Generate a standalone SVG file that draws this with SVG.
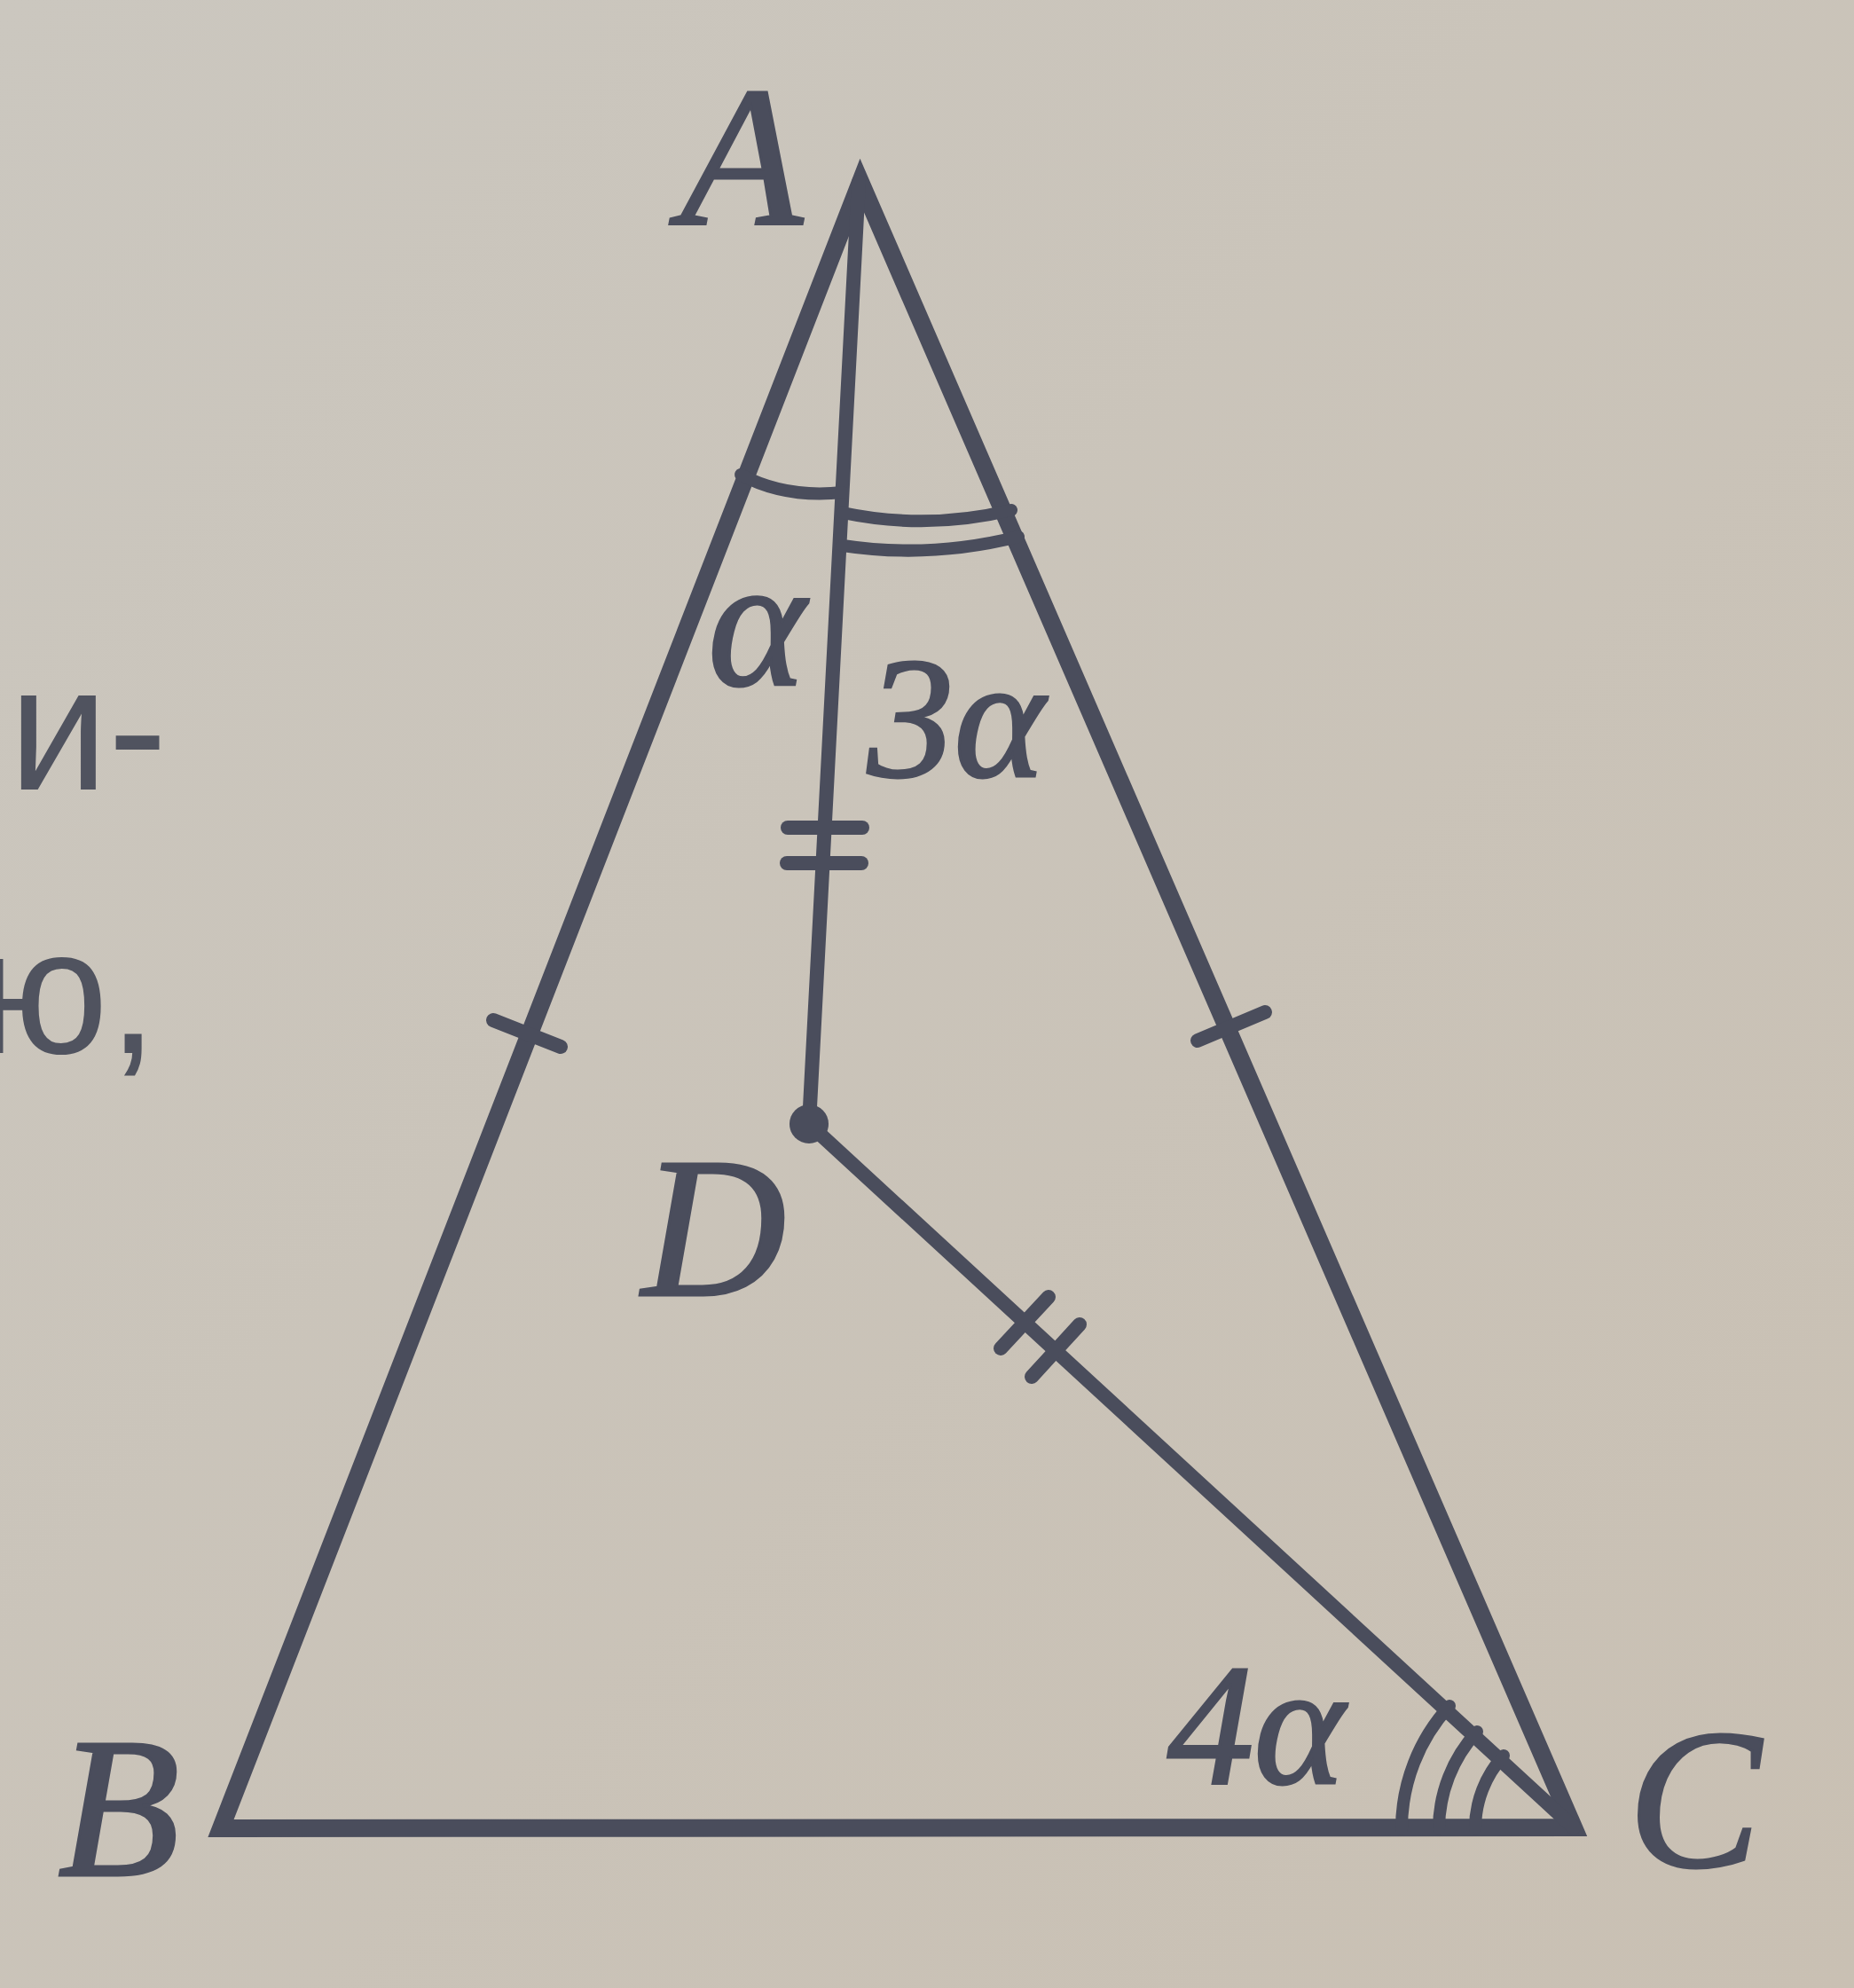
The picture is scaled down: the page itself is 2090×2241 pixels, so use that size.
<svg xmlns="http://www.w3.org/2000/svg" width="2090" height="2241" viewBox="0 0 2090 2241">
  <defs>
    <linearGradient id="bg" x1="0" y1="0" x2="1" y2="1">
      <stop offset="0" stop-color="#cbc7bf"/>
      <stop offset="1" stop-color="#c9c0b3"/>
    </linearGradient>
    <style>
      .ln { stroke: #4a4d5c; fill: none; stroke-linecap: round; }
      .side { stroke-width: 20; stroke-linejoin: miter; }
      .seg { stroke-width: 16; }
      .tick { stroke-width: 16; }
      .arc { stroke-width: 14; }
      .lbl { font-family: "Liberation Serif", "Times New Roman", serif; font-style: italic; fill: #4a4d5c; stroke: #4a4d5c; stroke-width: 3; }
      .side-text { font-family: "Liberation Sans", Arial, sans-serif; fill: #50535f; }
    </style>
  </defs>
  <rect x="0" y="0" width="2090" height="2241" fill="url(#bg)"/>

  <g id="page-text">
    <text class="side-text" x="10" y="890" font-size="200">и-</text>
    <text class="side-text" x="-28" y="1187" font-size="200">ю,</text>
  </g>

  <g id="connectors">
    <polygon id="triangle-ABC" class="ln side" points="970,205 249,2061 1774,2060"/>
    <line id="AD" class="ln seg" x1="968" y1="205" x2="912" y2="1267"/>
    <line id="DC" class="ln seg" x1="912" y1="1267" x2="1774" y2="2060"/>
    <!-- equal-length ticks -->
    <line class="ln tick" x1="556" y1="1150" x2="632" y2="1180"/>
    <line class="ln tick" x1="1350" y1="1173" x2="1426" y2="1141"/>
    <line class="ln tick" x1="888" y1="933" x2="972" y2="933"/>
    <line class="ln tick" x1="887" y1="973" x2="971" y2="973"/>
    <line class="ln tick" x1="1128" y1="1520" x2="1182" y2="1462"/>
    <line class="ln tick" x1="1163" y1="1552" x2="1217" y2="1493"/>
    <!-- angle arcs -->
    <path class="ln arc" d="M 835 535 Q 885 562 950 555"/>
    <path class="ln arc" d="M 950 578 Q 1045 598 1140 575"/>
    <path class="ln arc" d="M 950 615 Q 1048 630 1148 605"/>
    <path class="ln arc" d="M 1580 2062 A 205 205 0 0 1 1634 1923"/>
    <path class="ln arc" d="M 1622 2062 A 163 163 0 0 1 1665 1952"/>
    <path class="ln arc" d="M 1663 2062 A 122 122 0 0 1 1695 1979"/>
  </g>

  <g id="node-A"><text class="lbl" x="836" y="252" font-size="225" text-anchor="middle">A</text></g>
  <g id="node-B"><text class="lbl" x="134" y="2114" font-size="225" text-anchor="middle">B</text></g>
  <g id="node-C"><text class="lbl" x="1910" y="2104" font-size="225" text-anchor="middle">C</text></g>
  <g id="node-D">
    <circle cx="912" cy="1267" r="22" fill="#4a4d5c"/>
    <text class="lbl" x="805" y="1460" font-size="225" text-anchor="middle">D</text>
  </g>
  <g id="angle-labels">
    <text class="lbl" x="853" y="772" font-size="210" text-anchor="middle">α</text>
    <text class="lbl" x="978" y="875" font-size="195">3α</text>
    <text class="lbl" x="1316" y="2010" font-size="195">4α</text>
  </g>
</svg>
